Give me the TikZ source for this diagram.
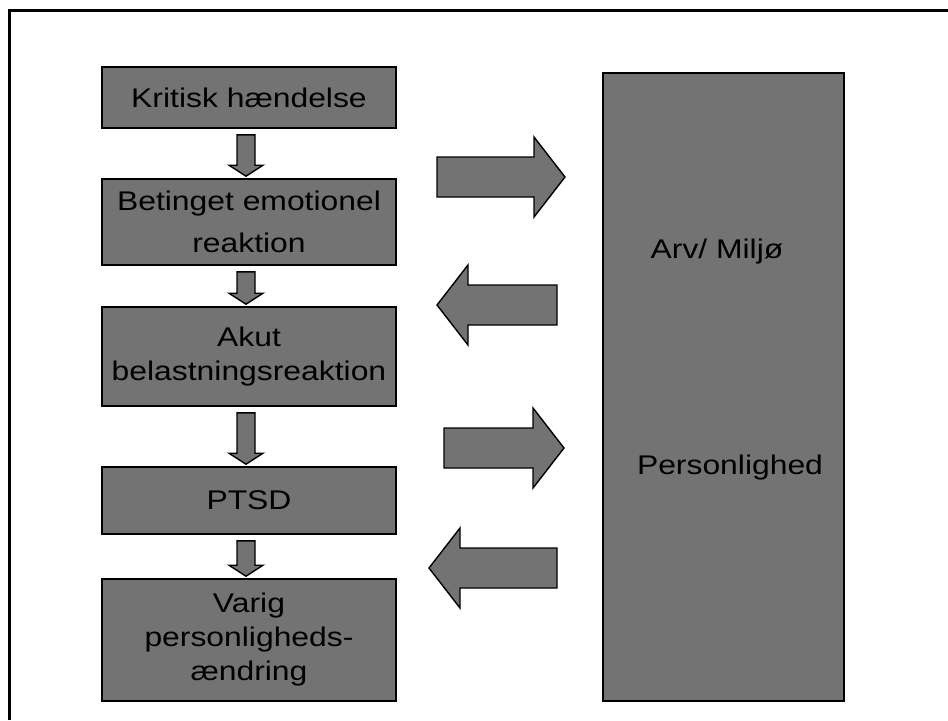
\documentclass[tikz,border=0pt]{standalone}
\usepackage{fontspec}
\setmainfont{Liberation Sans}[FakeStretch=1.18]
\usetikzlibrary{calc}

\tikzset{
  box/.style={draw=black, fill=black!55, line width=0.8pt, align=center,
    inner sep=0pt, font=\fontsize{13.5}{17}\selectfont},
  blockarr/.style={draw=black, fill=black!55, line width=0.7pt},
}

% fat down arrow from one box to the next
\newcommand\flow[2]{%
  \path[blockarr] let \p1=($(#1.south)+(-3,6)$), \p2=($(#2.north)+(-3,-2)$) in
    (\x1-4.5pt,\y1) -- (\x1+4.5pt,\y1) -- (\x1+4.5pt,\y2+5.5pt) -- (\x1+8.5pt,\y2+5.5pt)
    -- (\x2,\y2) -- (\x1-8.5pt,\y2+5.5pt) -- (\x1-4.5pt,\y2+5.5pt) -- cycle;}

\begin{document}
\begin{tikzpicture}[x=0.5pt,y=-0.5pt]
  \useasboundingbox (0,0) rectangle (948,720);
  \draw[line width=1.5pt] (9,720) -- (9,10) -- (948,10);

  % left column
  \node[box, minimum width=147pt, minimum height=30.5pt] (krit) at (249,97.5) {Kritisk hændelse};
  \node[box, minimum width=147pt, minimum height=43pt] (bet) at (249,222) {Betinget emotionel\\[4pt]reaktion};
  \node[box, minimum width=147pt, minimum height=49.5pt] (akut) at (249,356.5) {Akut\\belastningsreaktion};
  \node[box, minimum width=147pt, minimum height=33.5pt] (ptsd) at (249,500.5) {PTSD};
  \node[box, minimum width=147pt, minimum height=61pt] (varig) at (249,640) {Varig\\personligheds-\\ændring};

  \foreach \u/\v in {krit/bet, bet/akut, akut/ptsd, ptsd/varig}
    \flow{\u}{\v};

  % right column
  \node[box, minimum width=120.5pt, minimum height=314pt] (env) at (723.5,387) {};
  \node[font=\fontsize{13.5}{17}\selectfont] (arv) at (717,252) {Arv/ Miljø};
  \node[font=\fontsize{13.5}{17}\selectfont] (pers) at (730,468) {Personlighed};

  % arrows between the columns
  \foreach \a/\b/\c in {437/565/177, 557/437/305, 444/564/448, 557/429/568} {
    \pgfmathsetmacro\h{(\b>\a) ? 31 : -31}
    \path[blockarr] (\a,\c-20) -- (\b-\h,\c-20) -- (\b-\h,\c-40) -- (\b,\c)
      -- (\b-\h,\c+40) -- (\b-\h,\c+20) -- (\a,\c+20) -- cycle;
  }
\end{tikzpicture}
\end{document}
